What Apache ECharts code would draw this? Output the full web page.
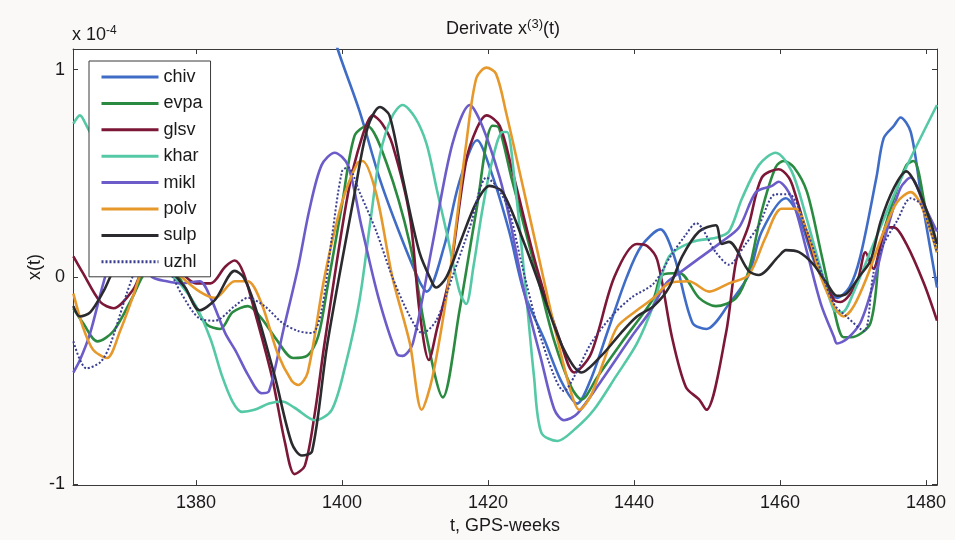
<!DOCTYPE html>
<html>
<head>
<meta charset="utf-8">
<script src="https://cdn.jsdelivr.net/npm/echarts@6/dist/echarts.min.js"></script>
<style>html,body{margin:0;padding:0;background:#fbf8f8;}#c{width:955px;height:540px;}</style>
</head>
<body>
<div id="c"></div>
<script>
const seriesNames = ['chiv','evpa','glsv','khar','mikl','polv','sulp','uzhl'];
const xTicks = [1380,1400,1420,1440,1460,1480];
const yTicks = [-1,0,1];

const chiv = [[1385,2.6],[1392,1.9],[1396,1.5],[1399.4,1.1],[1402.4,0.8],[1405.2,0.47],[1407.9,0.21],[1410.6,-0.02],[1411.6,-0.07],[1414,0.15],[1416,0.45],[1418.5,0.66],[1420.5,0.5],[1422.9,0.22],[1425,-0.08],[1427.7,-0.3],[1430,-0.5],[1432.2,-0.61],[1434,-0.5],[1436.5,-0.25],[1439,0.0],[1441,0.15],[1443.6,0.23],[1445.5,0.1],[1448,-0.22],[1449.9,-0.25],[1453,-0.13],[1455.7,0.01],[1457.5,0.22],[1460.8,0.38],[1462.5,0.3],[1465,0.05],[1467.8,-0.1],[1469.5,-0.05],[1471,0.1],[1473.2,0.48],[1474.2,0.67],[1475.6,0.73],[1476.5,0.77],[1477.9,0.7],[1479.3,0.4],[1481.5,-0.05]];
const evpa = [[1363.2,-0.15],[1364.5,-0.22],[1366.5,-0.31],[1368.7,-0.26],[1371.4,-0.09],[1373,0.02],[1375,0.06],[1377,0.03],[1378.5,-0.05],[1380,-0.15],[1381.5,-0.23],[1383.3,-0.25],[1385,-0.17],[1387.1,-0.14],[1389,-0.2],[1391,-0.3],[1393.3,-0.39],[1395.2,-0.38],[1396.7,-0.29],[1398,-0.05],[1400,0.35],[1401.7,0.68],[1403.4,0.73],[1406.1,0.55],[1409.3,0.16],[1411.6,-0.29],[1413.8,-0.58],[1416.1,-0.16],[1418.4,0.32],[1420.6,0.73],[1421.5,0.72],[1423.2,0.48],[1426.8,0.0],[1429,-0.3],[1431.4,-0.53],[1432.8,-0.59],[1435,-0.48],[1438.2,-0.32],[1442.7,-0.1],[1443.8,0.01],[1446.2,0.02],[1448.9,-0.1],[1451.2,-0.14],[1454,-0.1],[1455.7,0.03],[1457.5,0.32],[1459.4,0.53],[1460.5,0.56],[1461.9,0.53],[1463.7,0.41],[1465.6,0.12],[1467.4,-0.16],[1468.7,-0.29],[1469.7,-0.29],[1472.4,-0.22],[1473.8,0.16],[1475.6,0.38],[1477.3,0.54],[1478.3,0.56],[1480,0.32],[1481.5,0.12]];
const glsv = [[1363.2,0.1],[1364.5,0.02],[1366.9,-0.12],[1368.7,-0.15],[1371.4,-0.06],[1372.5,0.02],[1374,0.08],[1376,0.07],[1378,0.02],[1380,-0.03],[1382,-0.03],[1384,0.05],[1385.3,0.08],[1386.5,0.02],[1388,-0.16],[1390.4,-0.48],[1392.2,-0.8],[1393.5,-0.95],[1394.9,-0.91],[1396.3,-0.65],[1397.6,-0.32],[1400.8,0.4],[1402.7,0.67],[1404.2,0.78],[1405.5,0.74],[1406.9,0.64],[1409.3,0.29],[1410.6,-0.16],[1411.9,-0.4],[1413,-0.25],[1414.7,0.0],[1417,0.56],[1418.5,0.72],[1419.8,0.78],[1421.6,0.73],[1423.2,0.53],[1426.8,0.03],[1430,-0.32],[1431.8,-0.46],[1434.1,-0.37],[1437.3,0.0],[1440.4,0.16],[1441.8,0.15],[1443.2,0.08],[1445.2,-0.29],[1447.1,-0.53],[1448.9,-0.59],[1449.9,-0.64],[1452.6,-0.27],[1454,0.08],[1455.7,0.25],[1457.5,0.48],[1459.8,0.52],[1461.2,0.48],[1462,0.41],[1465,0.06],[1467.4,-0.11],[1468.3,-0.12],[1470.5,-0.03],[1471.7,0.12],[1472.8,0.04],[1473.8,0.16],[1474.6,0.24],[1475.6,0.24],[1477.3,0.16],[1479.7,-0.03],[1481.5,-0.21]];
const khar = [[1363.2,0.74],[1364.1,0.78],[1365,0.73],[1366.5,0.62],[1368,0.45],[1370,0.22],[1372,0.06],[1374,0.03],[1376,0.02],[1378,-0.04],[1380,-0.14],[1382,-0.3],[1383.5,-0.47],[1385,-0.6],[1386.3,-0.65],[1388,-0.64],[1390,-0.61],[1391.8,-0.6],[1393.5,-0.63],[1396.3,-0.69],[1398.6,-0.64],[1400.5,-0.42],[1402.4,-0.11],[1404,0.3],[1405.2,0.59],[1406.8,0.77],[1408.3,0.83],[1410,0.77],[1411.6,0.64],[1413,0.42],[1414.3,0.22],[1416.1,-0.07],[1417,-0.13],[1418,0.05],[1419.2,0.32],[1420.5,0.55],[1422,0.7],[1422.6,0.7],[1423.6,0.48],[1425,0.0],[1426.3,-0.48],[1427.3,-0.75],[1429.5,-0.79],[1432,-0.73],[1434.5,-0.64],[1437.5,-0.48],[1440.4,-0.32],[1442.7,-0.13],[1444.8,0.1],[1448,0.17],[1451.2,0.19],[1453,0.22],[1454.8,0.38],[1457.1,0.54],[1459.4,0.6],[1461.6,0.51],[1463.5,0.3],[1465.5,0.05],[1467.4,-0.16],[1468.5,-0.17],[1470,-0.08],[1472.8,0.16],[1476.9,0.5],[1481.5,0.83]];
const mikl = [[1363.2,-0.46],[1364.1,-0.4],[1365.5,-0.27],[1367.3,-0.03],[1368.2,0.06],[1370,0.12],[1372,0.08],[1374,0.0],[1376,-0.02],[1378,-0.03],[1380.5,-0.02],[1382,-0.1],[1384,-0.27],[1385.5,-0.36],[1387.1,-0.47],[1389,-0.56],[1390,-0.55],[1392,-0.25],[1394,0.05],[1395.5,0.32],[1397.2,0.54],[1399,0.6],[1400.8,0.54],[1402.7,0.24],[1405,-0.1],[1407.5,-0.37],[1408.3,-0.38],[1409.7,-0.32],[1412.4,0.16],[1415.1,0.64],[1417.5,0.83],[1419.2,0.73],[1421.6,0.48],[1422.9,0.29],[1425,-0.08],[1427.3,-0.4],[1429.1,-0.64],[1430.4,-0.69],[1432.2,-0.66],[1435.9,-0.48],[1439.6,-0.29],[1442.3,-0.16],[1444.4,-0.03],[1446.6,0.03],[1449.3,0.1],[1452,0.17],[1454.4,0.24],[1456.7,0.41],[1458.9,0.44],[1459.8,0.46],[1461.6,0.38],[1463.7,0.12],[1465.6,-0.13],[1467.4,-0.29],[1467.8,-0.32],[1469.1,-0.3],[1471,-0.22],[1472.8,-0.03],[1474.6,0.22],[1476.5,0.43],[1477.9,0.48],[1479.7,0.35],[1481.5,0.22]];
const polv = [[1363.2,-0.08],[1364.5,-0.24],[1365.9,-0.35],[1367.8,-0.39],[1369.6,-0.26],[1371.4,-0.09],[1372.5,0.02],[1374,0.08],[1376,0.06],[1378,0.0],[1380.5,-0.07],[1382.6,-0.1],[1385.3,-0.02],[1387.1,-0.02],[1389,-0.13],[1391.2,-0.37],[1393.1,-0.5],[1394,-0.52],[1395.3,-0.46],[1397.6,0.0],[1400,0.36],[1402.1,0.55],[1402.8,0.56],[1404.7,0.4],[1406.9,0.0],[1409.3,-0.32],[1410.9,-0.64],[1412.4,-0.48],[1414.7,0.0],[1417,0.64],[1418.4,0.96],[1419.8,1.01],[1421.1,0.98],[1422.5,0.79],[1424.5,0.48],[1426.8,0.12],[1429.1,-0.24],[1431.4,-0.56],[1432.5,-0.64],[1434.1,-0.57],[1435.9,-0.4],[1437.7,-0.24],[1440.4,-0.16],[1442.7,-0.1],[1444.8,-0.03],[1447.5,-0.02],[1450.3,-0.07],[1453,-0.03],[1455.7,0.01],[1458,0.19],[1460.2,0.33],[1462.1,0.33],[1463.7,0.22],[1465.6,0.0],[1467.4,-0.14],[1468.7,-0.19],[1470.1,-0.14],[1471.9,0.0],[1474.2,0.22],[1476,0.36],[1477.9,0.41],[1479.3,0.35],[1481.5,0.12]];
const sulp = [[1363.2,-0.14],[1364.1,-0.19],[1365.5,-0.17],[1367.3,-0.07],[1368.7,0.03],[1370.5,0.1],[1372.5,0.12],[1374.5,0.08],[1376.5,0.03],[1378.5,-0.05],[1380.5,-0.16],[1382.6,-0.11],[1385.3,0.03],[1386.5,0.0],[1388,-0.13],[1390.8,-0.48],[1393.1,-0.8],[1394.5,-0.86],[1395.9,-0.84],[1398,-0.32],[1401.7,0.4],[1403.5,0.72],[1405.2,0.82],[1406.5,0.78],[1408.3,0.48],[1410.6,0.12],[1412.4,-0.03],[1412.9,-0.05],[1414.3,0.0],[1416.1,0.16],[1418.4,0.36],[1420.2,0.44],[1422,0.41],[1425,0.16],[1427.7,-0.1],[1430.4,-0.35],[1432.8,-0.46],[1435.5,-0.38],[1438.2,-0.27],[1440.4,-0.19],[1442.7,-0.14],[1444.8,-0.05],[1446.6,0.1],[1448.9,0.22],[1451.2,0.25],[1452,0.16],[1453,0.17],[1455.7,0.03],[1457.1,0.01],[1459.8,0.1],[1460.8,0.13],[1462.6,0.12],[1464.6,0.06],[1466.4,-0.03],[1467.8,-0.09],[1469.1,-0.08],[1471,0.01],[1472.4,0.08],[1473.8,0.27],[1475.6,0.43],[1477.3,0.51],[1478.7,0.44],[1480.6,0.27],[1481.5,0.16]];
const uzhl = [[1363.2,-0.31],[1365,-0.44],[1366.9,-0.41],[1368.2,-0.33],[1370.6,-0.07],[1372,0.05],[1374,0.1],[1376,0.05],[1378,-0.08],[1380.5,-0.2],[1382.6,-0.21],[1385.3,-0.14],[1387.1,-0.1],[1389.4,-0.14],[1391.8,-0.22],[1394,-0.26],[1395.9,-0.27],[1397.2,-0.16],[1398.6,0.19],[1400,0.51],[1400.8,0.53],[1402.4,0.41],[1404.7,0.22],[1406.9,0.0],[1409.3,-0.19],[1411,-0.27],[1412.9,-0.21],[1415.1,0.0],[1417.5,0.24],[1419.8,0.48],[1421.1,0.44],[1422.8,0.33],[1424.5,0.08],[1426.8,-0.24],[1429.1,-0.48],[1430.4,-0.55],[1431.8,-0.48],[1434.1,-0.32],[1436.9,-0.19],[1439.6,-0.1],[1442.7,-0.03],[1445,0.1],[1447,0.2],[1448.5,0.26],[1451.2,0.12],[1453,0.06],[1455.3,0.16],[1457.1,0.25],[1459.4,0.4],[1461.2,0.4],[1463.7,0.22],[1465.6,0.03],[1467.4,-0.13],[1469.1,-0.19],[1471.5,-0.26],[1472.8,0.02],[1474.2,0.16],[1476,0.27],[1477.9,0.38],[1479.3,0.35],[1481.5,0.12]];

const seriesData = [chiv, evpa, glsv, khar, mikl, polv, sulp, uzhl];
const colors = ['#3f6cc6','#2a8a40','#7c1737','#55c9a6','#6b5cc9','#e6982a','#2b2b2f','#3b3f8f'];

const FONT = '"Liberation Sans", Arial, sans-serif';
const chart = echarts.init(document.getElementById('c'), null, {renderer: 'canvas'});

const axisCommon = {
  axisLine: {show: true, onZero: false, lineStyle: {color: '#3a3a3a', width: 1}},
  splitLine: {show: false}
};

const option = {
  animation: false,
  backgroundColor: '#fbf8f8',
  textStyle: {fontFamily: FONT},
  grid: {left: 73, right: 18, top: 49, bottom: 51, show: true, backgroundColor: '#ffffff', borderWidth: 0},
  legend: {
    data: seriesNames,
    orient: 'vertical',
    left: 89, top: 61,
    backgroundColor: '#ffffff',
    borderColor: '#3a3a3a', borderWidth: 1, borderRadius: 0,
    padding: [7, 8, 6, 11],
    itemWidth: 57, itemHeight: 18, itemGap: 8.4,
    itemStyle: {opacity: 0},
    lineStyle: {width: 3},
    textStyle: {fontSize: 18, color: '#1a1a1a', fontFamily: FONT, lineHeight: 18}
  },
  xAxis: [
    Object.assign({}, axisCommon, {
      type: 'value', position: 'bottom', min: 1363.15, max: 1481.5,
      name: 't, GPS-weeks', nameLocation: 'middle', nameGap: 30,
      nameTextStyle: {fontSize: 18, color: '#1a1a1a', fontFamily: FONT},
      axisTick: {show: true, inside: true, length: 5, customValues: xTicks, lineStyle: {color: '#3a3a3a'}},
      axisLabel: {show: true, customValues: xTicks, formatter: v => String(v), fontSize: 18, color: '#1a1a1a', margin: 9, fontFamily: FONT}
    }),
    Object.assign({}, axisCommon, {
      type: 'value', position: 'top', min: 1363.15, max: 1481.5,
      axisTick: {show: true, inside: true, length: 5, customValues: xTicks, lineStyle: {color: '#3a3a3a'}},
      axisLabel: {show: false}
    })
  ],
  yAxis: [
    Object.assign({}, axisCommon, {
      type: 'value', position: 'left', min: -1.003, max: 1.1,
      name: 'x(t)', nameLocation: 'middle', nameGap: 29, nameRotate: 90, nameMoveOverlap: false,
      nameTextStyle: {fontSize: 18, color: '#1a1a1a', fontFamily: FONT},
      axisTick: {show: true, inside: true, length: 5, customValues: yTicks, lineStyle: {color: '#3a3a3a'}},
      axisLabel: {show: true, customValues: yTicks, formatter: v => String(v), fontSize: 18, color: '#1a1a1a', margin: 8, fontFamily: FONT}
    }),
    Object.assign({}, axisCommon, {
      type: 'value', position: 'right', min: -1.003, max: 1.1,
      axisTick: {show: true, inside: true, length: 5, customValues: yTicks, lineStyle: {color: '#3a3a3a'}},
      axisLabel: {show: false}
    })
  ],
  graphic: [
    {type: 'text', x: 503, y: 29, style: {
      text: '{a|Derivate x}{s|(3)}{a|(t)}', align: 'center', verticalAlign: 'middle',
      rich: {a: {fontSize: 18, fontFamily: FONT, fill: '#1a1a1a', color: '#1a1a1a'},
             s: {fontSize: 13, fontFamily: FONT, fill: '#1a1a1a', color: '#1a1a1a', padding: [0,0,9,0]}}
    }},
    {type: 'text', x: 72, y: 35, style: {
      text: '{a|x 10}{s|-4}', align: 'left', verticalAlign: 'middle',
      rich: {a: {fontSize: 18, fontFamily: FONT, fill: '#1a1a1a', color: '#1a1a1a'},
             s: {fontSize: 12, fontFamily: FONT, fill: '#1a1a1a', color: '#1a1a1a', padding: [0,0,9,0]}}
    }}
  ],
  series: seriesNames.map((n, i) => ({
    name: n, type: 'line', data: seriesData[i], xAxisIndex: 0, yAxisIndex: 0,
    showSymbol: false, symbol: 'none', smooth: 0.3, clip: true,
    color: colors[i],
    lineStyle: i === 7 ? {color: colors[i], width: 2, type: [2, 2]} : {color: colors[i], width: 2.6},
    emphasis: {disabled: true}, z: 2
  }))
};
chart.setOption(option);
</script>
</body>
</html>
